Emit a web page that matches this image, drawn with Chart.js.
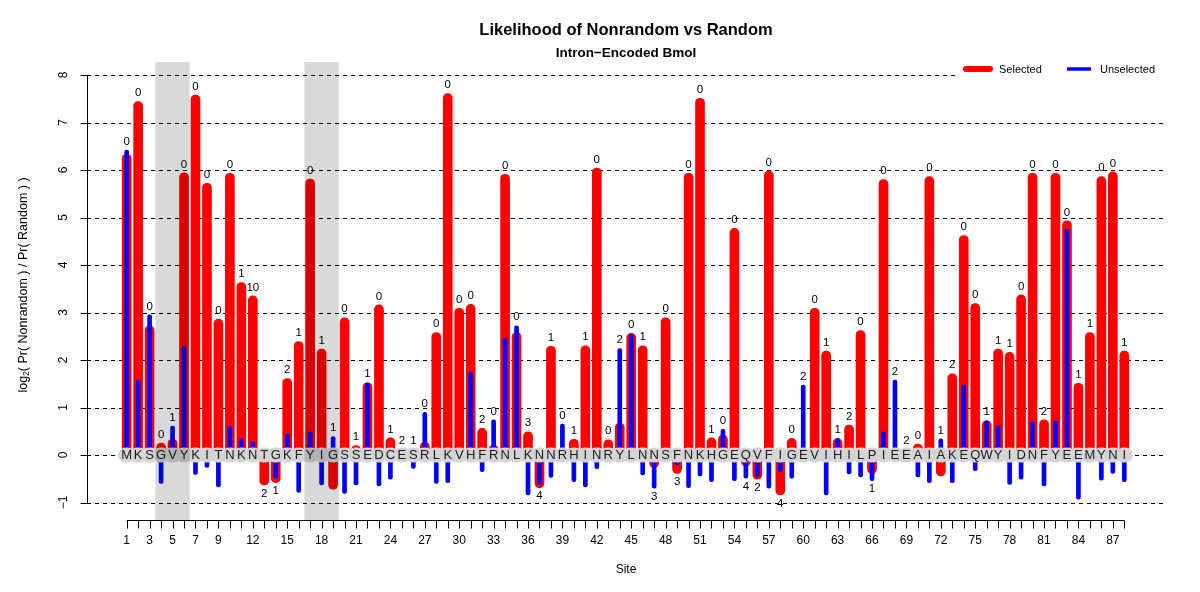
<!DOCTYPE html>
<html><head><meta charset="utf-8">
<script src="https://cdn.jsdelivr.net/npm/chart.js@4.4.1/dist/chart.umd.min.js"></script>
<style>html,body{margin:0;padding:0;background:#fff;}canvas{display:block;}</style>
</head><body>
<canvas id="c" width="1200" height="592"></canvas>
<script>
const residues = ['M','K','S','G','V','Y','K','I','T','N','K','N','T','G','K','F','Y','I','G','S','S','E','D','C','E','S','R','L','K','V','H','F','R','N','L','K','N','N','R','H','I','N','R','Y','L','N','N','S','F','N','K','H','G','E','Q','V','F','I','G','E','V','I','H','I','L','P','I','E','E','A','I','A','K','E','Q','W','Y','I','D','N','F','Y','E','E','M','Y','N','I'];

const selected = [6.33,7.44,2.72,0.25,0.33,5.94,7.58,5.72,2.86,5.93,3.63,3.35,-0.63,-0.58,1.61,2.39,5.81,2.23,-0.72,2.89,0.20,1.52,3.16,0.36,0.05,0.02,0.27,2.58,7.61,3.09,3.17,0.56,0.21,5.91,2.58,0.49,-0.69,2.29,0,0.33,2.30,6.04,0.32,0.67,2.56,2.30,-0.26,2.89,-0.39,5.93,7.51,0.36,0.42,4.77,-0.23,-0.51,5.98,-0.84,0.35,0,3.09,2.19,0.34,0.63,2.62,-0.39,5.80,0,0.05,0.23,5.86,-0.44,1.71,4.62,3.19,0.72,2.23,2.16,3.37,5.93,0.74,5.93,4.93,1.51,2.58,5.86,5.96,2.19];

const unselected = [6.42,1.58,2.95,-0.60,0.61,2.29,-0.41,-0.26,-0.67,0.60,0.34,0.28,0,-0.49,0.44,-0.79,0.49,-0.63,0.39,-0.81,-0.63,1.52,-0.65,-0.51,0,-0.28,0.90,-0.60,-0.58,0,1.74,-0.35,0.74,2.46,2.72,-0.84,-0.63,-0.47,0.65,-0.56,-0.67,-0.29,0,2.24,2.54,-0.42,-0.70,0,-0.21,-0.69,-0.44,-0.56,0.54,-0.54,-0.49,-0.46,-0.70,-0.35,-0.49,1.47,0,-0.84,0.35,-0.40,-0.46,-0.54,0.49,1.58,0,-0.46,-0.58,0.34,-0.58,1.47,-0.33,0.72,0.62,-0.62,-0.51,0.70,-0.65,0.72,4.75,-0.93,0,-0.53,-0.39,-0.56];

const counts = ['0','0','0','0','1','0','0','0','0','0','1','10','2','1','2','1','0','1','1','0','1','1','0','1','2','1','0','0','0','0','0','2','0','0','0','3','4','1','0','1','1','0','0','2','0','1','3','0','3','0','0','1','0','0','4','2','0','4','0','2','0','1','1','2','0','1','0','2','2','0','0','1','2','0','0','1','1','1','0','0','2','0','0','1','1','0','0','1'];

const xTickLabels = [1,3,5,7,9,12,15,18,21,24,27,30,33,36,39,42,45,48,51,54,57,60,63,66,69,72,75,78,81,84,87];
const yTicks = [-1,0,1,2,3,4,5,6,7,8];
const shadedRanges = [[4,6],[17,19]];

const F = '"Liberation Sans", Arial, Helvetica, sans-serif';

const sitesData = (arr) => arr.map((v, i) => ({x: i + 1, y: v}));

const custom = {
  id: 'custom',
  beforeDraw(chart) {
    const ctx = chart.ctx;
    ctx.save(); ctx.fillStyle = '#fff'; ctx.fillRect(0, 0, chart.width, chart.height); ctx.restore();
  },
  beforeDatasetsDraw(chart) {
    const {ctx, chartArea: a, scales: {x, y}} = chart;
    ctx.save();
    ctx.strokeStyle = '#000'; ctx.lineWidth = 1;
    ctx.setLineDash([4, 4]);
    yTicks.forEach(v => {
      const py = Math.round(y.getPixelForValue(v)) + 0.5;
      ctx.beginPath(); ctx.moveTo(a.left, py); ctx.lineTo(a.right, py); ctx.stroke();
    });
    ctx.setLineDash([]);
    // y axis
    const ax = Math.round(a.left) + 0.5;
    ctx.beginPath();
    ctx.moveTo(ax, Math.round(y.getPixelForValue(yTicks[yTicks.length - 1])) + 0.5);
    ctx.lineTo(ax, Math.round(y.getPixelForValue(yTicks[0])) + 0.5);
    yTicks.forEach(v => {
      const py = Math.round(y.getPixelForValue(v)) + 0.5;
      ctx.moveTo(ax - 7, py); ctx.lineTo(ax, py);
    });
    ctx.stroke();
    ctx.fillStyle = '#000';
    ctx.font = '12px ' + F; ctx.textAlign = 'center'; ctx.textBaseline = 'middle';
    yTicks.forEach(v => {
      const py = y.getPixelForValue(v);
      ctx.save(); ctx.translate(64, py); ctx.rotate(-Math.PI / 2);
      ctx.fillText(v < 0 ? '\u2212' + Math.abs(v) : String(v), 0, 0);
      ctx.restore();
    });
    // x axis
    const ay = Math.round(a.bottom) + 0.5;
    ctx.beginPath();
    ctx.moveTo(x.getPixelForValue(1), ay); ctx.lineTo(x.getPixelForValue(residues.length), ay);
    residues.forEach((r, i) => {
      const px = Math.round(x.getPixelForValue(i + 1)) + 0.5;
      ctx.moveTo(px, ay); ctx.lineTo(px, ay + 8);
    });
    ctx.stroke();
    ctx.font = '12px ' + F;
    xTickLabels.forEach(v => ctx.fillText(String(v), x.getPixelForValue(v), 541));
    ctx.fillText('Site', (a.left + a.right) / 2, 570);
    // y title
    ctx.save();
    ctx.translate(24, (a.top + a.bottom) / 2 - 6);
    ctx.rotate(-Math.PI / 2);
    const parts = [
      {t: 'log', f: '12.5px ' + F, dy: 0},
      {t: '2', f: '8.5px ' + F, dy: 3},
      {t: '( Pr( Nonrandom ) / Pr( Random ) )', f: '12.5px ' + F, dy: 0}
    ];
    let total = 0;
    parts.forEach(p => { ctx.font = p.f; p.w = ctx.measureText(p.t).width; total += p.w; });
    let cx = -total / 2;
    ctx.textAlign = 'left';
    parts.forEach(p => { ctx.font = p.f; ctx.fillText(p.t, cx, p.dy); cx += p.w; });
    ctx.restore();
    ctx.restore();
  },
  afterDatasetsDraw(chart) {
    const {ctx, chartArea: a, scales: {x, y}} = chart;
    ctx.save();
    const zy = y.getPixelForValue(0);
    // letter band
    ctx.fillStyle = '#d4d4d4';
    ctx.beginPath();
    residues.forEach((r, i) => {
      const px = x.getPixelForValue(i + 1);
      ctx.roundRect(px - 8.5, zy - 7.5, 17, 15, 7.5);
    });
    ctx.fill();
    ctx.fillStyle = '#1a1a1a';
    ctx.font = '13px ' + F; ctx.textAlign = 'center'; ctx.textBaseline = 'middle';
    residues.forEach((r, i) => ctx.fillText(r, x.getPixelForValue(i + 1), zy + 0.5));
    // count labels
    ctx.fillStyle = '#000';
    ctx.font = '11.5px ' + F;
    counts.forEach((c, i) => {
      const hi = Math.max(selected[i], unselected[i]);
      const lo = Math.min(selected[i], unselected[i]);
      const px = x.getPixelForValue(i + 1);
      if (hi > 0) {
        const top = Math.min(y.getPixelForValue(hi), zy - 6);
        ctx.fillText(c, px, top - 8.5);
      } else {
        const bot = Math.max(y.getPixelForValue(lo), zy + 7);
        ctx.fillText(c, px, bot + 8.5);
      }
    });
    // shaded ranges
    ctx.fillStyle = 'rgba(0,0,0,0.15)';
    shadedRanges.forEach(([s, e]) => {
      const x0 = x.getPixelForValue(s - 0.5), x1 = x.getPixelForValue(e + 0.5);
      ctx.fillRect(x0, a.top, x1 - x0, a.bottom - a.top);
    });
    // legend
    ctx.fillStyle = '#fff';
    ctx.fillRect(956, 60, a.right - 956 + 1, 22);
    ctx.lineCap = 'round';
    ctx.strokeStyle = '#ff0000'; ctx.lineWidth = 6;
    ctx.beginPath(); ctx.moveTo(966, 69); ctx.lineTo(990, 69); ctx.stroke();
    ctx.lineCap = 'butt';
    ctx.strokeStyle = '#0000ff'; ctx.lineWidth = 3.5;
    ctx.beginPath(); ctx.moveTo(1067, 69); ctx.lineTo(1091, 69); ctx.stroke();
    ctx.fillStyle = '#000'; ctx.textAlign = 'left'; ctx.font = '11px ' + F;
    ctx.fillText('Selected', 999, 69.5);
    ctx.fillText('Unselected', 1100, 69.5);
    // titles
    ctx.textAlign = 'center';
    const cx = (a.left + a.right) / 2;
    ctx.font = 'bold 16.5px ' + F;
    ctx.fillText('Likelihood of Nonrandom vs Random', cx, 30);
    ctx.font = 'bold 13.5px ' + F;
    ctx.fillText('Intron\u2212Encoded BmoI', cx, 53);
    ctx.restore();
  }
};

new Chart(document.getElementById('c'), {
  type: 'bar',
  data: {
    datasets: [
      {label: 'Unselected', data: sitesData(unselected), backgroundColor: '#0000ff',
       barThickness: 4, borderRadius: 2, borderSkipped: false, grouped: false, order: 0},
      {label: 'Selected', data: sitesData(selected), backgroundColor: '#ff0000',
       barThickness: 9, borderRadius: 4.5, borderSkipped: false, grouped: false, order: 1}
    ]
  },
  options: {
    responsive: false, animation: false, devicePixelRatio: 1,
    layout: {padding: {left: 87, right: 35, top: 62, bottom: 72}},
    plugins: {legend: {display: false}, title: {display: false}, tooltip: {enabled: false}},
    scales: {
      x: {type: 'linear', min: -2.46, max: 91.55, offset: false, display: false},
      y: {type: 'linear', min: -1.368, max: 8.274, display: false}
    }
  },
  plugins: [custom]
});
</script>
</body></html>
